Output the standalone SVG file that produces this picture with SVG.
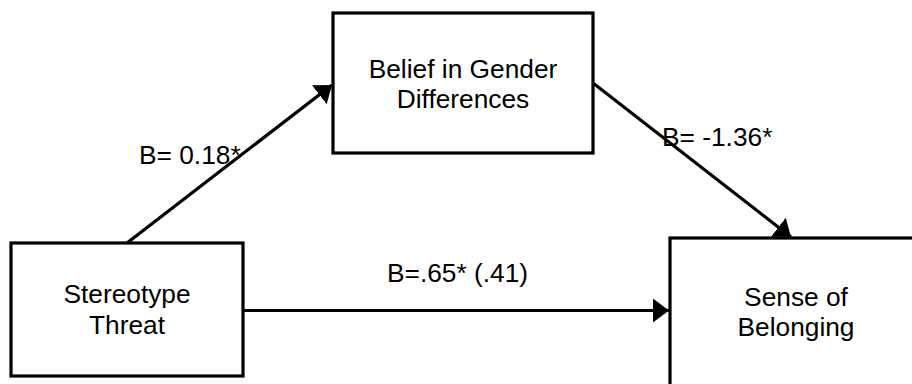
<svg xmlns="http://www.w3.org/2000/svg" width="912" height="384" viewBox="0 0 912 384">
<style>
.box{fill:#fff;stroke:#000;stroke-width:3.2}
.t{font-family:"Liberation Sans",Arial,sans-serif;font-size:26.3px;fill:#000}
.c{text-anchor:middle}
.ln{stroke:#000;stroke-width:3.2;fill:none}
</style>
<defs>
<marker id="ah" markerUnits="userSpaceOnUse" markerWidth="18" markerHeight="26" refX="16" refY="12" orient="auto">
<path d="M0,0 L16,12 L0,24 z" fill="#000"/>
</marker>
</defs>
<rect width="912" height="384" fill="#fff"/>
<g id="labels">
<text class="t" x="139" y="164">B= 0.18*</text>
<text class="t" x="662" y="146">B= -1.36*</text>
<text class="t" x="387" y="282">B=.65* (.41)</text>
</g>
<g id="connectors">
<line class="ln" x1="127" y1="243" x2="332" y2="85" marker-end="url(#ah)"/>
<line class="ln" x1="593" y1="83" x2="791" y2="237" marker-end="url(#ah)"/>
<line class="ln" x1="243" y1="310.5" x2="669" y2="310.5" marker-end="url(#ah)"/>
</g>
<g id="node-belief">
<rect class="box" x="333" y="13" width="260" height="140"/>
<text class="t c" x="463" y="78">Belief in Gender</text>
<text class="t c" x="463" y="108">Differences</text>
</g>
<g id="node-threat">
<rect class="box" x="11" y="243" width="232" height="133"/>
<text class="t c" x="127" y="303">Stereotype</text>
<text class="t c" x="127" y="334">Threat</text>
</g>
<g id="node-belonging">
<rect class="box" x="670" y="238" width="252" height="160"/>
<text class="t c" x="796" y="306">Sense of</text>
<text class="t c" x="796" y="336">Belonging</text>
</g>
</svg>
